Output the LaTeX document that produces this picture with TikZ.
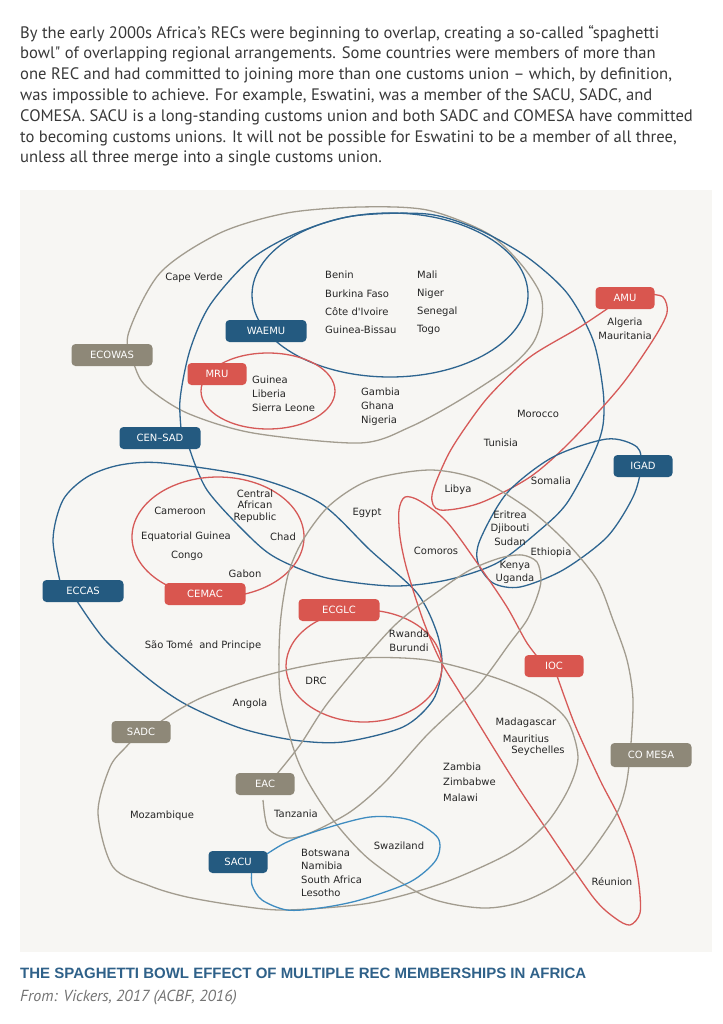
\documentclass[tikz,border=0pt]{standalone}
\usepackage{fontspec}
\setmainfont{PT Sans}
\newfontfamily\mapfont{DejaVu Sans}
\newfontfamily\titlefont{Liberation Sans}
\usepackage{tikz}
\usetikzlibrary{calc}
\definecolor{recblue}{HTML}{245A80}
\definecolor{recred}{HTML}{D9564F}
\definecolor{recgray}{HTML}{8E8878}
\definecolor{lineblue}{HTML}{2E6590}
\definecolor{linered}{HTML}{D65A58}
\definecolor{linegray}{HTML}{A29C8F}
\definecolor{sacublue}{HTML}{3F8CC0}
\definecolor{bowlbg}{HTML}{F7F6F3}
\definecolor{titleblue}{HTML}{2F6189}
\definecolor{bodygray}{HTML}{383838}

\begin{document}
\begin{tikzpicture}[x=1pt, y=-1pt,
    recbox/.style={rounded corners=4pt, minimum width=81pt, minimum height=22pt, inner sep=0pt, text=white, font=\mapfont\fontsize{10}{12}\selectfont},
    smallbox/.style={recbox, minimum width=59pt},
    country/.style={font=\mapfont\fontsize{10}{14}\selectfont, text=black!85, inner sep=0pt, align=center},
    bowl/.style={line width=1.3pt}]
    \useasboundingbox (0,0) rectangle (722,1024);

    % the text above
    \node[anchor=base west, inner sep=0pt, align=left, text=bodygray, font=\fontsize{16.6}{20.8}\selectfont] (intro) at (20,163)
      {By the early 2000s Africa’s RECs were beginning to overlap, creating a so-called “spaghetti\\
       bowl\textquotedbl{} of overlapping regional arrangements. Some countries were members of more than\\
       one REC and had committed to joining more than one customs union – which, by definition,\\
       was impossible to achieve. For example, Eswatini, was a member of the SACU, SADC, and\\
       COMESA. SACU is a long-standing customs union and both SADC and COMESA have committed\\
       to becoming customs unions. It will not be possible for Eswatini to be a member of all three,\\
       unless all three merge into a single customs union.};

    % the background of the bowl
    \fill[bowlbg] (20,190) rectangle (712,952);

    % draw the sets
    \draw[bowl, linegray] plot[smooth cycle] coordinates {(128,335) (135,367) (147,387) (187,413) (253,433) (360,443) (410,427) (460,400) (510,367) (533,343) (542,317) (540,293) (520,263) (487,233) (427,210) (360,207) (287,213) (220,233) (160,273)};
    \draw[bowl, lineblue] (390,295) ellipse [x radius=138, y radius=82];
    \draw[bowl, lineblue] plot[smooth] coordinates {(182,438) (180,400) (190,350) (210,305) (250,260) (297,233) (353,216) (427,214) (477,229) (527,257) (567,293) (593,340) (603,390) (603,425) (593,455) (567,503) (540,530) (497,563) (447,580) (393,586) (327,578) (280,560) (253,540) (207,490) (188,444)};
    \draw[bowl, linered] (268,391) ellipse [x radius=67, y radius=38];
    \draw[bowl, linered] plot[smooth] coordinates {(620,300) (580,327) (530,357) (490,395) (465,428) (447,457) (432,495) (440,510) (480,503) (530,477) (570,442) (620,387) (653,340) (667,313) (663,297) (648,294)};
    \draw[bowl, lineblue] plot[smooth cycle] coordinates {(637,447) (607,439) (553,457) (507,493) (480,540) (478,563) (493,583) (520,587) (563,570) (607,537) (633,497) (641,467)};
    \draw[bowl, lineblue] plot[smooth] coordinates {(62,590) (53,540) (63,500) (87,477) (120,465) (163,463) (253,477) (320,503) (370,550) (417,593) (437,633) (442,667) (433,700) (403,727) (343,742) (293,740) (240,728) (187,705) (150,680) (105,640) (75,598)};
    \draw[bowl, linered] (218,537) ellipse [x radius=86, y radius=60];
    \draw[bowl, linered] (364,666) ellipse [x radius=78, y radius=56];
    \draw[bowl, linered] plot[smooth] coordinates {(545,666) (527,643) (507,607) (480,567) (447,522) (420,501) (405,497) (399,510) (400,537) (407,570) (423,620) (440,660) (460,693) (493,747) (520,790) (547,830) (593,897) (615,918) (630,925) (640,913) (639,885) (633,853) (618,815) (600,780) (575,725) (556,673)};
    \draw[bowl, linegray] plot[smooth cycle] coordinates {(430,470) (480,480) (530,510) (567,543) (597,580) (613,620) (627,660) (633,700) (630,755) (625,790) (613,820) (573,873) (527,900) (483,908) (427,897) (370,860) (333,820) (307,780) (293,747) (280,693) (280,627) (288,575) (303,540) (330,505) (370,480)};
    \draw[bowl, linegray] plot[smooth] coordinates {(150,729) (175,712) (203,697) (250,680) (300,667) (360,658) (427,660) (493,677) (540,697) (567,720) (578,757) (568,790) (545,825) (510,853) (443,883) (370,903) (287,910) (240,906) (187,897) (150,886) (113,867) (98,813) (110,767) (125,748) (135,738)};
    \draw[bowl, linegray] plot[smooth] coordinates {(272,780) (300,745) (330,700) (393,627) (440,590) (470,570) (500,558) (522,555) (537,562) (541,580) (537,597) (527,620) (510,643) (477,687) (427,735) (385,782) (350,812) (310,833) (287,838) (268,828) (263,800)};
    \draw[bowl, sacublue] plot[smooth] coordinates {(258,860) (285,843) (320,830) (370,817) (410,820) (438,838) (436,860) (410,882) (360,900) (320,908) (287,910) (262,900) (252,885) (252,868)};

    % the names of the RECs
    \node[recbox, fill=recgray] (ecowas) at (112,355) {ECOWAS};
    \node[recbox, fill=recblue] (waemu) at (266,331) {WAEMU};
    \node[smallbox, fill=recred] (mru) at (217,374) {MRU};
    \node[recbox, fill=recblue] (censad) at (160,438) {CEN–SAD};
    \node[smallbox, fill=recred] (amu) at (625,298) {AMU};
    \node[smallbox, fill=recblue] (igad) at (643,466) {IGAD};
    \node[recbox, fill=recblue] (eccas) at (83,591) {ECCAS};
    \node[recbox, fill=recred] (cemac) at (205,594) {CEMAC};
    \node[recbox, fill=recred] (ecglc) at (339,610) {ECGLC};
    \node[smallbox, fill=recred] (ioc) at (554,666) {IOC};
    \node[smallbox, fill=recgray] (sadc) at (141,732) {SADC};
    \node[smallbox, fill=recgray] (eac) at (265,784) {EAC};
    \node[smallbox, fill=recblue] (sacu) at (238,862) {SACU};
    \node[recbox, fill=recgray, minimum height=24pt] (comesa) at (651,755) {CO MESA};

    % the countries
    \node[country] (capeverde) at (194,278) {Cape Verde};
    \node[country, anchor=west] (benin) at (325,275) {Benin};
    \node[country, anchor=west] (burkina) at (325,294) {Burkina Faso};
    \node[country, anchor=west] (ivoire) at (325,312) {Côte d\textquotesingle Ivoire};
    \node[country, anchor=west] (bissau) at (325,330) {Guinea-Bissau};
    \node[country, anchor=west] (mali) at (417,275) {Mali};
    \node[country, anchor=west] (niger) at (417,294) {Niger};
    \node[country, anchor=west] (senegal) at (417,312) {Senegal};
    \node[country, anchor=west] (togo) at (417,330) {Togo};
    \node[country, anchor=west, align=left] (guinea) at (252,394) {Guinea\\Liberia\\Sierra Leone};
    \node[country, anchor=west, align=left] (gambia) at (361,407) {Gambia\\Ghana\\Nigeria};
    \node[country] (algeria) at (625,329) {Algeria\\Mauritania};
    \node[country] (morocco) at (538,414) {Morocco};
    \node[country] (tunisia) at (501,443) {Tunisia};
    \node[country] (libya) at (458,490) {Libya};
    \node[country] (somalia) at (551,481) {Somalia};
    \node[country] (egypt) at (367,513) {Egypt};
    \node[country, font=\mapfont\fontsize{10}{13.5}\selectfont] (eritrea) at (510,528) {Eritrea\\Djibouti\\Sudan};
    \node[country] (ethiopia) at (551,553) {Ethiopia};
    \node[country] (comoros) at (436,551) {Comoros};
    \node[country, font=\mapfont\fontsize{10}{13}\selectfont] (kenya) at (515,572) {Kenya\\Uganda};
    \node[country, font=\mapfont\fontsize{10}{11.5}\selectfont] (car) at (255,506) {Central\\African\\Republic};
    \node[country] (cameroon) at (180,511) {Cameroon};
    \node[country] (eqguinea) at (186,537) {Equatorial Guinea};
    \node[country] (chad) at (283,537) {Chad};
    \node[country] (congo) at (187,556) {Congo};
    \node[country] (gabon) at (245,574) {Gabon};
    \node[country] (saotome) at (203,646) {São Tomé\ \ and Principe};
    \node[country] (rwanda) at (409,641) {Rwanda\\Burundi};
    \node[country] (drc) at (316,681) {DRC};
    \node[country] (angola) at (250,704) {Angola};
    \node[country] (madagascar) at (526,723) {Madagascar};
    \node[country] (mauritius) at (526,739) {Mauritius};
    \node[country] (seychelles) at (538,751) {Seychelles};
    \node[country, anchor=west, align=left, font=\mapfont\fontsize{10}{15.5}\selectfont] (zambia) at (443,782) {Zambia\\Zimbabwe\\Malawi};
    \node[country] (mozambique) at (162,816) {Mozambique};
    \node[country] (tanzania) at (296,814) {Tanzania};
    \node[country] (swaziland) at (399,846) {Swaziland};
    \node[country, anchor=west, align=left, font=\mapfont\fontsize{10}{13.3}\selectfont] (botswana) at (301,873) {Botswana\\Namibia\\South Africa\\Lesotho};
    \node[country] (reunion) at (612,882) {Réunion};

    % the caption
    \node[anchor=base west, inner sep=0pt, text=titleblue, font=\titlefont\fontsize{15}{17}\selectfont\bfseries] (title) at (20,978) {THE SPAGHETTI BOWL EFFECT OF MULTIPLE REC MEMBERSHIPS IN AFRICA};
    \node[anchor=base west, inner sep=0pt, text=black!55, font=\fontsize{16}{18}\selectfont\itshape] (source) at (20,1001) {From: Vickers, 2017 (ACBF, 2016)};
\end{tikzpicture}
\end{document}
